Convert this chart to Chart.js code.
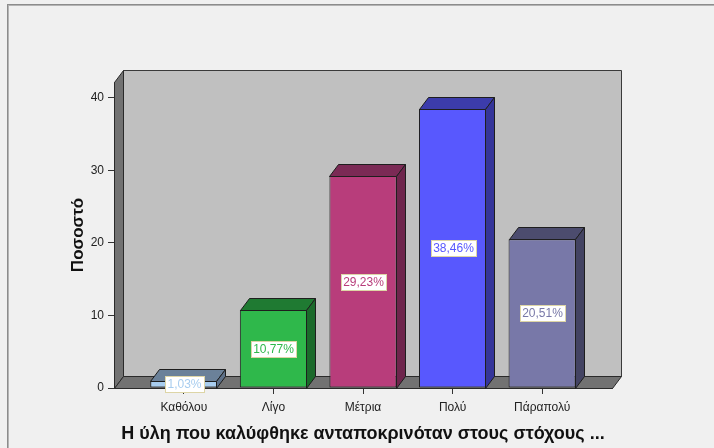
<!DOCTYPE html>
<html><head><meta charset="utf-8">
<script src="https://cdn.jsdelivr.net/npm/chart.js@4.4.0/dist/chart.umd.min.js"></script>
<style>html,body{margin:0;padding:0;background:#f0f0f0;overflow:hidden}#wrap{width:714px;height:448px;position:relative}</style>
</head><body><div id="wrap"><canvas id="c" width="714" height="448"></canvas></div>
<script>
const categories = ['Καθόλου', 'Λίγο', 'Μέτρια', 'Πολύ', 'Πάραπολύ'];
const percentages = [1.03, 10.77, 29.23, 38.46, 20.51];
const yTicks = [0, 10, 20, 30, 40];
const frontColors = ['#a8cdef', '#2fb84b', '#b83d7b', '#5858fe', '#7878a8'];
const topColors = ['#6b8199', '#1f7a32', '#7b2a55', '#3c3cab', '#4c4c6e'];
const sideColors = ['#5d7088', '#1b6a2b', '#6e254c', '#35359a', '#434362'];
const labelColors = ['#a8cdef', '#2fb84b', '#b83d7b', '#5858fe', '#7878a8'];
const xTitle = 'Η ύλη που καλύφθηκε ανταποκρινόταν στους στόχους ...';
const yTitle = 'Ποσοστό';

const FONT = "'Liberation Sans', Arial, sans-serif";
const DX = 9, DY = 12;

function poly(ctx, pts, fill, stroke) {
  ctx.beginPath();
  ctx.moveTo(pts[0][0], pts[0][1]);
  for (let i = 1; i < pts.length; i++) ctx.lineTo(pts[i][0], pts[i][1]);
  ctx.closePath();
  if (fill) { ctx.fillStyle = fill; ctx.fill(); }
  if (stroke) { ctx.strokeStyle = stroke; ctx.lineWidth = 1; ctx.stroke(); }
}

const frame3d = {
  id: 'frame3d',
  beforeDraw(chart) {
    const ctx = chart.ctx;
    ctx.save();
    ctx.fillStyle = '#f0f0f0';
    ctx.fillRect(0, 0, chart.width, chart.height);
    ctx.fillStyle = '#8c8c8c';
    ctx.fillRect(7, 4, chart.width - 7, 1);
    ctx.fillRect(7, 4, 1, chart.height - 4);
    ctx.fillStyle = '#b4b4b4';
    ctx.fillRect(8, 5, chart.width - 8, 1);
    ctx.fillRect(8, 5, 1, chart.height - 5);
    ctx.restore();
  },
  beforeDatasetsDraw(chart) {
    const ctx = chart.ctx;
    const {left, right, top, bottom} = chart.chartArea;
    ctx.save();
    poly(ctx, [[left + DX + .5, top - DY + .5], [right + DX + .5, top - DY + .5], [right + DX + .5, bottom - DY + .5], [left + DX + .5, bottom - DY + .5]], '#c0c0c0', '#3a3a3a');
    poly(ctx, [[left + .5, top + .5], [left + DX + .5, top - DY + .5], [left + DX + .5, bottom - DY + .5], [left + .5, bottom + .5]], '#727272', '#2a2a2a');
    poly(ctx, [[left + .5, bottom + .5], [left + DX + .5, bottom - DY + .5], [right + DX + .5, bottom - DY + .5], [right + .5, bottom + .5]], '#727272', '#2a2a2a');
    ctx.restore();
  },
  afterDatasetsDraw(chart) {
    const ctx = chart.ctx;
    const meta = chart.getDatasetMeta(0);
    ctx.save();
    meta.data.forEach((bar, i) => {
      const l = Math.round(bar.x - bar.width / 2) + .5;
      const r = Math.round(bar.x + bar.width / 2) - .5;
      const t = Math.round(bar.y) + .5;
      const b = Math.round(bar.base) + .5;
      poly(ctx, [[l, t], [l + DX, t - DY], [r + DX, t - DY], [r, t]], topColors[i], '#1e1e1e');
      poly(ctx, [[r, t], [r + DX, t - DY], [r + DX, b - DY], [r, b]], sideColors[i], '#1e1e1e');
    });
    ctx.font = '12px ' + FONT;
    ctx.textAlign = 'center';
    ctx.textBaseline = 'middle';
    meta.data.forEach((bar, i) => {
      const txt = percentages[i].toFixed(2).replace('.', ',') + '%';
      const w = Math.ceil(ctx.measureText(txt).width) + 4;
      const h = 16;
      const cx = Math.round(bar.x);
      const cy = Math.round((bar.y + bar.base) / 2);
      const bx = Math.round(cx - w / 2) + .5, by = Math.round(cy - h / 2) + .5;
      ctx.fillStyle = '#ffffff';
      ctx.fillRect(bx, by, w, h);
      ctx.strokeStyle = '#ddd5a6';
      ctx.lineWidth = 1;
      ctx.strokeRect(bx, by, w, h);
      ctx.fillStyle = labelColors[i];
      ctx.fillText(txt, cx + 0.5, cy + 1);
    });
    ctx.restore();
  }
};

new Chart(document.getElementById('c'), {
  type: 'bar',
  data: {
    datasets: [{
      data: percentages.map((v, i) => ({x: i, y: v})),
      backgroundColor: frontColors,
      borderColor: '#1e1e1e',
      borderWidth: 1,
      borderSkipped: false,
      barPercentage: 0.75,
      categoryPercentage: 1
    }]
  },
  options: {
    responsive: false,
    animation: false,
    events: [],
    layout: {padding: {top: 82, right: 102, bottom: 0, left: 0}},
    plugins: {legend: {display: false}, tooltip: {enabled: false}},
    scales: {
      x: {
        type: 'linear',
        min: -0.78,
        max: 4.78,
        offset: false,
        afterBuildTicks(s) { s.ticks = categories.map((_, i) => ({value: i})); },
        afterFit(s) { s.height = 60; },
        ticks: {
          autoSkip: false, maxRotation: 0, padding: 6,
          color: '#222', font: {family: FONT, size: 12},
          callback: (v) => categories[v]
        },
        grid: {offset: false, drawOnChartArea: false, drawTicks: true, tickLength: 6, color: '#333'},
        border: {display: true, color: '#2a2a2a'},
        title: {
          display: true, text: xTitle, color: '#111',
          font: {family: FONT, size: 18, weight: 'bold'},
          padding: {top: 0, bottom: 3}
        }
      },
      y: {
        min: 0,
        max: 42.2,
        afterBuildTicks(s) { s.ticks = yTicks.map(v => ({value: v})); },
        afterFit(s) { s.width = 114; },
        ticks: {color: '#222', font: {family: FONT, size: 12}, padding: 4},
        grid: {drawOnChartArea: false, drawTicks: true, tickLength: 6, color: '#333'},
        border: {display: true, color: '#2a2a2a'},
        title: {
          display: true, text: yTitle, color: '#111',
          font: {family: FONT, size: 17, weight: 'bold'},
          padding: {top: 68, bottom: 0}
        }
      }
    }
  },
  plugins: [frame3d]
});
</script>
</body></html>
